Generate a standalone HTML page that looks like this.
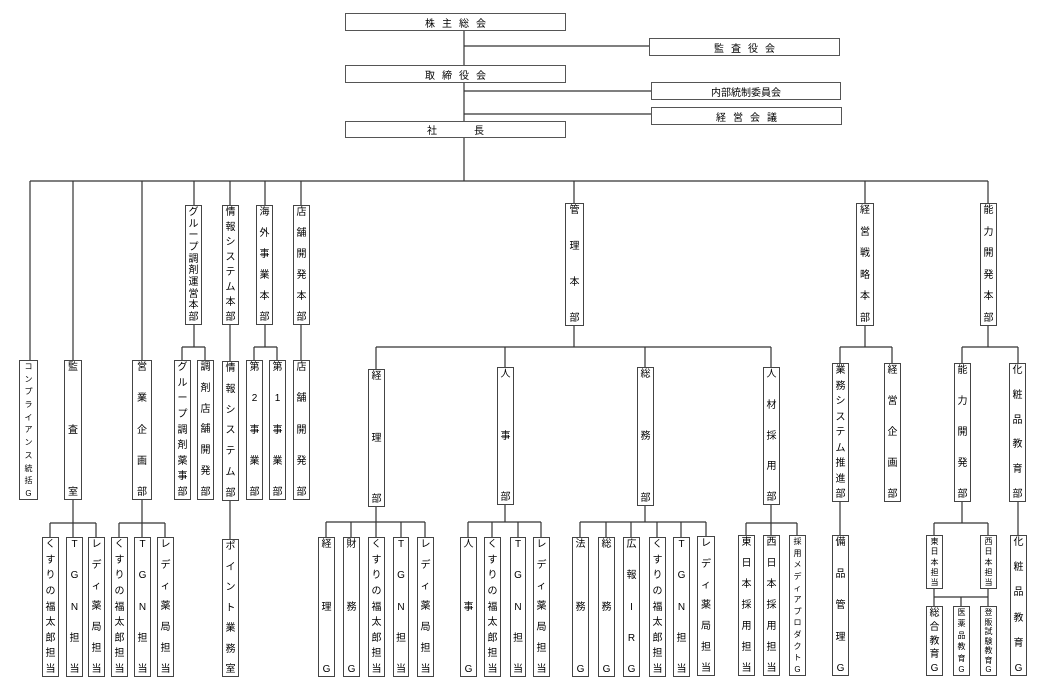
<!DOCTYPE html>
<html><head><meta charset="utf-8"><style>
body{margin:0;background:#fff;width:1042px;height:690px;position:relative;overflow:hidden;font-family:"Liberation Sans","Noto Sans CJK JP",sans-serif;color:#000}
.h{position:absolute;border:1.5px solid #555;box-sizing:border-box;font-size:10px;display:flex;align-items:center;justify-content:center;letter-spacing:7px;padding-left:7px;background:#fff}
.v{position:absolute;border:1.5px solid #444;box-sizing:border-box;font-size:10px;display:flex;flex-direction:column;justify-content:space-between;align-items:center;line-height:11px;padding:1px 0;background:#fff}
.s{font-size:8px;line-height:9px}
svg{position:absolute;left:0;top:0}
</style></head><body>
<svg width="1042" height="690" stroke="#333" stroke-width="1.2" fill="none">
<path d="M464 30V65M464 82V121M464 137V181M464 46H649M464 91H651M464 114H651M30 181H988
M30 181V360M73 181V360M142 181V360M194 181V205M230 181V205M265 181V205M301 181V205M574 181V203M865 181V203M988 181V203
M194 325V347M182 347H205M182 347V360M205 347V360
M230 325V361M230 500V539
M265 325V347M254 347H277M254 347V360M277 347V360
M301 325V360
M73 500V537M50 523H96M50 523V537M96 523V537
M142 500V537M119 523H165M119 523V537M165 523V537
M574 326V347M376 347H771M376 347V369M505 347V367M645 347V367M771 347V367
M376 507V537M326 522H425M326 522V537M351 522V537M401 522V537M425 522V537
M505 505V522M468 522H541M468 522V537M492 522V537M518 522V537M541 522V537
M645 506V522M580 522H706M580 522V537M606 522V537M631 522V537M657 522V537M681 522V537M706 522V537
M771 505V535M746 523H797M746 523V535M797 523V535
M865 326V347M840 347H892M840 347V363M892 347V363M840 502V535
M988 326V347M962 347H1018M962 347V363M1018 347V363M962 502V523M934 523H988M934 523V535M988 523V535
M934 588V606M934 597H988M988 588V606M961 597V606M1018 502V535"/>
</svg>
<div class="h" style="left:345px;top:13px;width:221px;height:18px">株主総会</div>
<div class="h" style="left:649px;top:38px;width:191px;height:18px">監査役会</div>
<div class="h" style="left:345px;top:65px;width:221px;height:18px">取締役会</div>
<div class="h" style="left:651px;top:82px;width:190px;height:18px;letter-spacing:0;padding-left:0">内部統制委員会</div>
<div class="h" style="left:651px;top:107px;width:191px;height:18px">経営会議</div>
<div class="h" style="left:345px;top:121px;width:221px;height:17px;letter-spacing:37px;padding-left:37px">社長</div>

<div class="v s" style="left:19px;top:360px;width:19px;height:140px"><span>コ</span><span>ン</span><span>プ</span><span>ラ</span><span>イ</span><span>ア</span><span>ン</span><span>ス</span><span>統</span><span>括</span><span>G</span></div>
<div class="v" style="left:64px;top:360px;width:18px;height:140px"><span>監</span><span>査</span><span>室</span></div>
<div class="v" style="left:132px;top:360px;width:20px;height:140px"><span>営</span><span>業</span><span>企</span><span>画</span><span>部</span></div>
<div class="v" style="left:185px;top:205px;width:17px;height:120px"><span>グ</span><span>ル</span><span>ー</span><span>プ</span><span>調</span><span>剤</span><span>運</span><span>営</span><span>本</span><span>部</span></div>
<div class="v" style="left:222px;top:205px;width:17px;height:120px"><span>情</span><span>報</span><span>シ</span><span>ス</span><span>テ</span><span>ム</span><span>本</span><span>部</span></div>
<div class="v" style="left:256px;top:205px;width:17px;height:120px"><span>海</span><span>外</span><span>事</span><span>業</span><span>本</span><span>部</span></div>
<div class="v" style="left:293px;top:205px;width:17px;height:120px"><span>店</span><span>舗</span><span>開</span><span>発</span><span>本</span><span>部</span></div>
<div class="v" style="left:174px;top:360px;width:17px;height:140px"><span>グ</span><span>ル</span><span>ー</span><span>プ</span><span>調</span><span>剤</span><span>薬</span><span>事</span><span>部</span></div>
<div class="v" style="left:197px;top:360px;width:17px;height:140px"><span>調</span><span>剤</span><span>店</span><span>舗</span><span>開</span><span>発</span><span>部</span></div>
<div class="v" style="left:222px;top:361px;width:17px;height:140px"><span>情</span><span>報</span><span>シ</span><span>ス</span><span>テ</span><span>ム</span><span>部</span></div>
<div class="v" style="left:246px;top:360px;width:17px;height:140px"><span>第</span><span>2</span><span>事</span><span>業</span><span>部</span></div>
<div class="v" style="left:269px;top:360px;width:17px;height:140px"><span>第</span><span>1</span><span>事</span><span>業</span><span>部</span></div>
<div class="v" style="left:293px;top:360px;width:17px;height:140px"><span>店</span><span>舗</span><span>開</span><span>発</span><span>部</span></div>
<div class="v" style="left:565px;top:203px;width:19px;height:123px"><span>管</span><span>理</span><span>本</span><span>部</span></div>
<div class="v" style="left:856px;top:203px;width:18px;height:123px"><span>経</span><span>営</span><span>戦</span><span>略</span><span>本</span><span>部</span></div>
<div class="v" style="left:980px;top:203px;width:17px;height:123px"><span>能</span><span>力</span><span>開</span><span>発</span><span>本</span><span>部</span></div>
<div class="v" style="left:368px;top:369px;width:17px;height:138px"><span>経</span><span>理</span><span>部</span></div>
<div class="v" style="left:497px;top:367px;width:17px;height:138px"><span>人</span><span>事</span><span>部</span></div>
<div class="v" style="left:637px;top:367px;width:17px;height:139px"><span>総</span><span>務</span><span>部</span></div>
<div class="v" style="left:763px;top:367px;width:17px;height:138px"><span>人</span><span>材</span><span>採</span><span>用</span><span>部</span></div>
<div class="v" style="left:832px;top:363px;width:17px;height:139px"><span>業</span><span>務</span><span>シ</span><span>ス</span><span>テ</span><span>ム</span><span>推</span><span>進</span><span>部</span></div>
<div class="v" style="left:884px;top:363px;width:17px;height:139px"><span>経</span><span>営</span><span>企</span><span>画</span><span>部</span></div>
<div class="v" style="left:954px;top:363px;width:17px;height:139px"><span>能</span><span>力</span><span>開</span><span>発</span><span>部</span></div>
<div class="v" style="left:1009px;top:363px;width:17px;height:139px"><span>化</span><span>粧</span><span>品</span><span>教</span><span>育</span><span>部</span></div>

<div class="v" style="left:42px;top:537px;width:17px;height:140px"><span>く</span><span>す</span><span>り</span><span>の</span><span>福</span><span>太</span><span>郎</span><span>担</span><span>当</span></div>
<div class="v" style="left:66px;top:537px;width:17px;height:140px"><span>T</span><span>G</span><span>N</span><span>担</span><span>当</span></div>
<div class="v" style="left:88px;top:537px;width:17px;height:140px"><span>レ</span><span>デ</span><span>ィ</span><span>薬</span><span>局</span><span>担</span><span>当</span></div>
<div class="v" style="left:111px;top:537px;width:17px;height:140px"><span>く</span><span>す</span><span>り</span><span>の</span><span>福</span><span>太</span><span>郎</span><span>担</span><span>当</span></div>
<div class="v" style="left:134px;top:537px;width:17px;height:140px"><span>T</span><span>G</span><span>N</span><span>担</span><span>当</span></div>
<div class="v" style="left:157px;top:537px;width:17px;height:140px"><span>レ</span><span>デ</span><span>ィ</span><span>薬</span><span>局</span><span>担</span><span>当</span></div>
<div class="v" style="left:222px;top:539px;width:17px;height:138px"><span>ポ</span><span>イ</span><span>ン</span><span>ト</span><span>業</span><span>務</span><span>室</span></div>

<div class="v" style="left:318px;top:537px;width:17px;height:140px"><span>経</span><span>理</span><span>G</span></div>
<div class="v" style="left:343px;top:537px;width:17px;height:140px"><span>財</span><span>務</span><span>G</span></div>
<div class="v" style="left:368px;top:537px;width:17px;height:140px"><span>く</span><span>す</span><span>り</span><span>の</span><span>福</span><span>太</span><span>郎</span><span>担</span><span>当</span></div>
<div class="v" style="left:393px;top:537px;width:16px;height:140px"><span>T</span><span>G</span><span>N</span><span>担</span><span>当</span></div>
<div class="v" style="left:417px;top:537px;width:17px;height:140px"><span>レ</span><span>デ</span><span>ィ</span><span>薬</span><span>局</span><span>担</span><span>当</span></div>
<div class="v" style="left:460px;top:537px;width:17px;height:140px"><span>人</span><span>事</span><span>G</span></div>
<div class="v" style="left:484px;top:537px;width:17px;height:140px"><span>く</span><span>す</span><span>り</span><span>の</span><span>福</span><span>太</span><span>郎</span><span>担</span><span>当</span></div>
<div class="v" style="left:510px;top:537px;width:16px;height:140px"><span>T</span><span>G</span><span>N</span><span>担</span><span>当</span></div>
<div class="v" style="left:533px;top:537px;width:17px;height:140px"><span>レ</span><span>デ</span><span>ィ</span><span>薬</span><span>局</span><span>担</span><span>当</span></div>
<div class="v" style="left:572px;top:537px;width:17px;height:140px"><span>法</span><span>務</span><span>G</span></div>
<div class="v" style="left:598px;top:537px;width:17px;height:140px"><span>総</span><span>務</span><span>G</span></div>
<div class="v" style="left:623px;top:537px;width:17px;height:140px"><span>広</span><span>報</span><span>I</span><span>R</span><span>G</span></div>
<div class="v" style="left:649px;top:537px;width:17px;height:140px"><span>く</span><span>す</span><span>り</span><span>の</span><span>福</span><span>太</span><span>郎</span><span>担</span><span>当</span></div>
<div class="v" style="left:673px;top:537px;width:17px;height:140px"><span>T</span><span>G</span><span>N</span><span>担</span><span>当</span></div>
<div class="v" style="left:697px;top:536px;width:18px;height:140px"><span>レ</span><span>デ</span><span>ィ</span><span>薬</span><span>局</span><span>担</span><span>当</span></div>
<div class="v" style="left:738px;top:535px;width:17px;height:141px"><span>東</span><span>日</span><span>本</span><span>採</span><span>用</span><span>担</span><span>当</span></div>
<div class="v" style="left:763px;top:535px;width:17px;height:141px"><span>西</span><span>日</span><span>本</span><span>採</span><span>用</span><span>担</span><span>当</span></div>
<div class="v s" style="left:789px;top:535px;width:17px;height:141px"><span>採</span><span>用</span><span>メ</span><span>デ</span><span>ィ</span><span>ア</span><span>プ</span><span>ロ</span><span>ダ</span><span>ク</span><span>ト</span><span>G</span></div>
<div class="v" style="left:832px;top:535px;width:17px;height:141px"><span>備</span><span>品</span><span>管</span><span>理</span><span>G</span></div>
<div class="v s" style="left:926px;top:535px;width:17px;height:54px"><span>東</span><span>日</span><span>本</span><span>担</span><span>当</span></div>
<div class="v s" style="left:980px;top:535px;width:17px;height:54px"><span>西</span><span>日</span><span>本</span><span>担</span><span>当</span></div>
<div class="v" style="left:926px;top:606px;width:17px;height:70px"><span>総</span><span>合</span><span>教</span><span>育</span><span>G</span></div>
<div class="v s" style="left:953px;top:606px;width:17px;height:70px"><span>医</span><span>薬</span><span>品</span><span>教</span><span>育</span><span>G</span></div>
<div class="v s" style="left:980px;top:606px;width:17px;height:70px"><span>登</span><span>販</span><span>試</span><span>験</span><span>教</span><span>育</span><span>G</span></div>
<div class="v" style="left:1010px;top:535px;width:17px;height:141px"><span>化</span><span>粧</span><span>品</span><span>教</span><span>育</span><span>G</span></div>
</body></html>
